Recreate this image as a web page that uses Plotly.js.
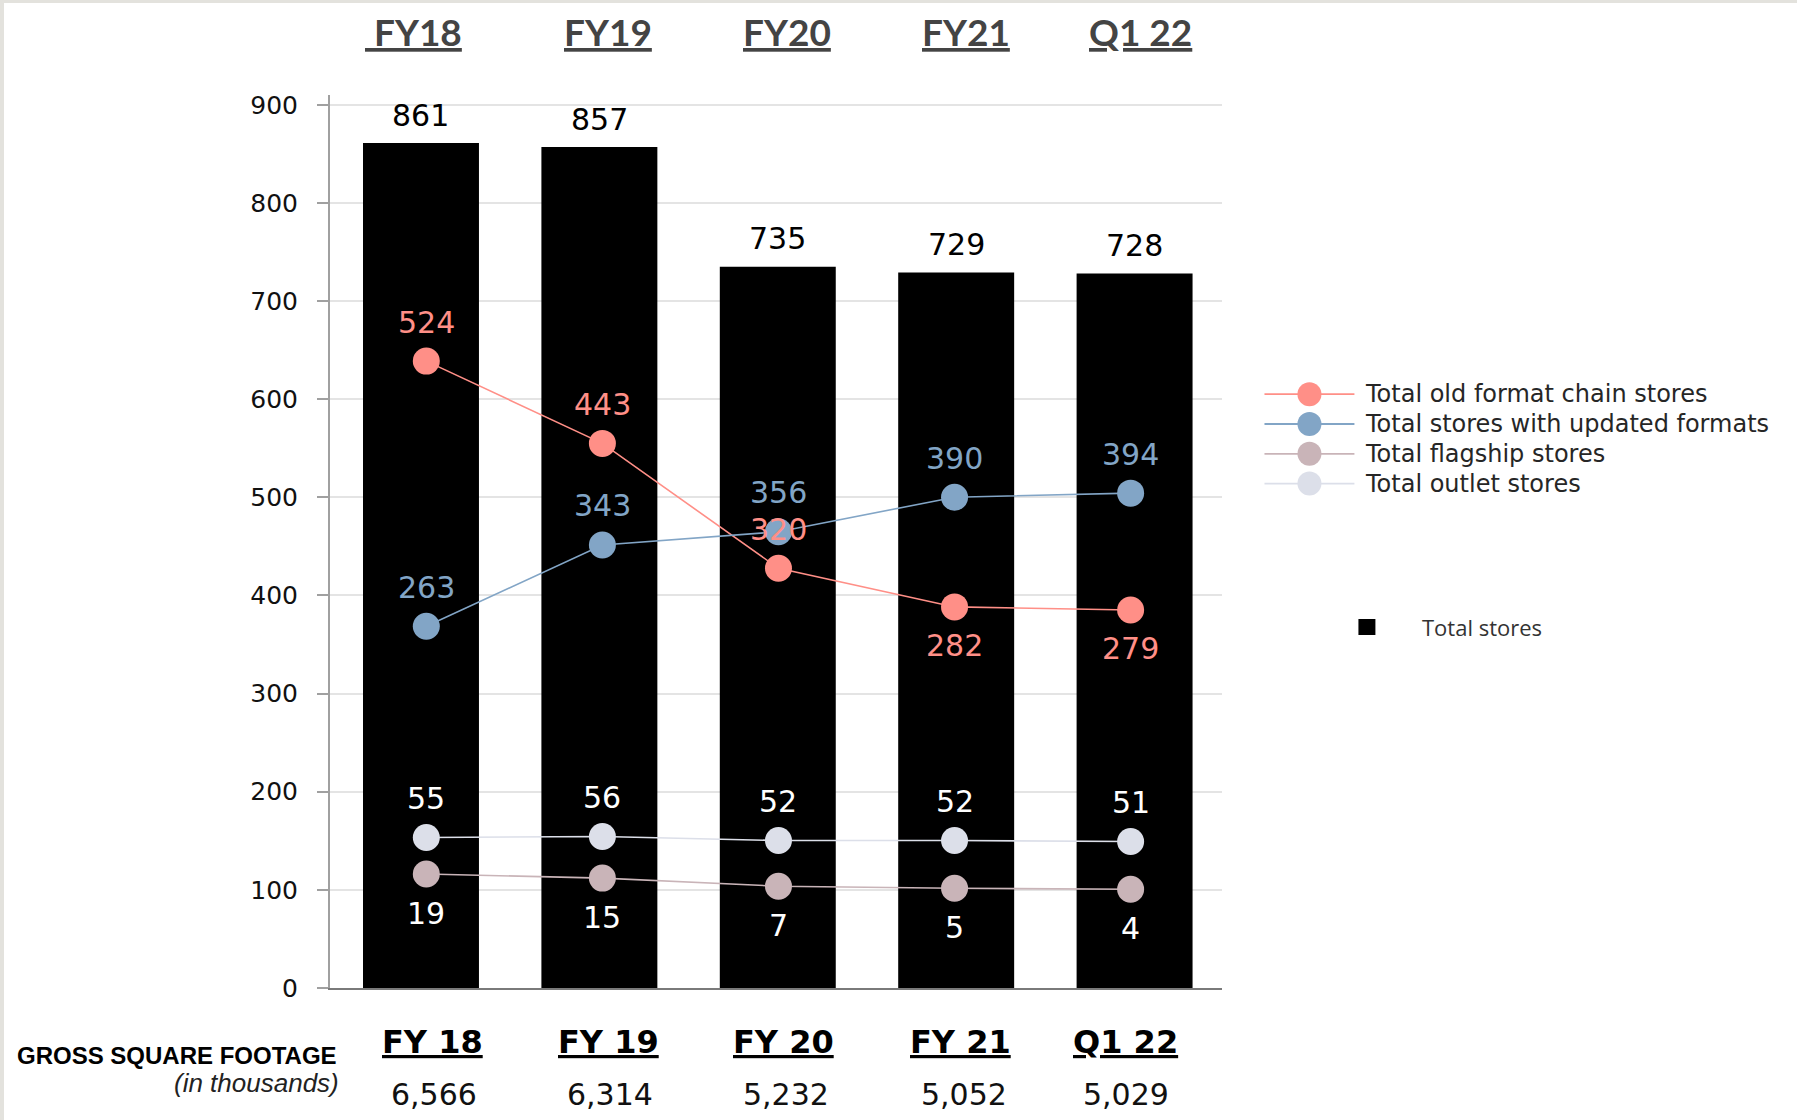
<!DOCTYPE html>
<html><head><meta charset="utf-8">
<script src="https://cdn.plot.ly/plotly-3.0.1.min.js"></script>
<style>
html,body{margin:0;padding:0;background:#e3e2dd;width:1797px;height:1120px;overflow:hidden}
#chart{position:absolute;left:4px;top:3px;width:1793px;height:1117px;background:#fff}
</style></head><body><div id="chart"></div>
<script>
// ---- data ----
const periods = ['FY18', 'FY19', 'FY20', 'FY21', 'Q1 22'];
const topLabels = ['\u00a0FY18', 'FY19', 'FY20', 'FY21', 'Q1 22'];
const bottomLabels = ['FY 18', 'FY 19', 'FY 20', 'FY 21', 'Q1 22'];
const sqFootage = ['6,566', '6,314', '5,232', '5,052', '5,029'];
const totalStores = [861, 857, 735, 729, 728];
const oldFormat = [524, 443, 320, 282, 279];
const updatedFormat = [263, 343, 356, 390, 394];
const flagship = [19, 15, 7, 5, 4];
const outlet = [55, 56, 52, 52, 51];

// ---- geometry (full-image pixels) ----
const OX = 4, OY = 3;                 // page border offset
const X0 = 330, X1 = 1222.5, Y0 = 95, Y1 = 988;
const px = x => (x - X0) / (X1 - X0);
const py = y => (Y1 - y) / (Y1 - Y0);

// label nudges (pixels) — styling only
const topShift = [-7.5, 8.5, 9.7, 9.7, 5.6];
const bottomShift = [11.4, 9.1, 5.6, 3.9, -8.7];
const valueShift = [13.1, 10.2, 8.5, 7.4, -8.1];

const series = [
  {name: 'Total old format chain stores', y: oldFormat, color: '#ff8f87', label: '#ff8f87', side: [1, 1, 1, -1, -1]},
  {name: 'Total stores with updated formats', y: updatedFormat, color: '#82a5c6', label: '#82a5c6', side: [1, 1, 1, 1, 1]},
  {name: 'Total flagship stores', y: flagship, color: '#c9b4b8', label: '#ffffff', side: [-1, -1, -1, -1, -1]},
  {name: 'Total outlet stores', y: outlet, color: '#dcdfe9', label: '#ffffff', side: [1, 1, 1, 1, 1]}
];

const traces = [{
  type: 'bar', x: periods, y: totalStores, name: 'Total stores',
  marker: {color: '#000000'}, width: 0.65, hoverinfo: 'skip', showlegend: false
}];
series.forEach(s => traces.push({
  type: 'scatter', mode: 'lines+markers', x: periods, y: s.y, xaxis: 'x2', yaxis: 'y2', name: s.name,
  line: {color: s.color, width: 1.6}, marker: {color: s.color, size: 27}, hoverinfo: 'skip', showlegend: false
}));

const ann = [];
const shapes = [];
const numFont = c => ({family: 'DejaVu Sans', size: 30, color: c});
totalStores.forEach((v, i) => ann.push({x: periods[i], y: v, xref: 'x', yref: 'y', text: String(v),
  showarrow: false, yshift: 28, yanchor: 'middle', font: numFont('#000')}));
series.forEach(s => s.y.forEach((v, i) => ann.push({x: periods[i], y: v, xref: 'x2', yref: 'y2', text: String(v),
  showarrow: false, yshift: 39 * s.side[i], yanchor: 'middle', font: numFont(s.label)})));
topLabels.forEach((t, i) => ann.push({x: periods[i], y: py(31.5), xref: 'x', yref: 'paper', text: '<u>' + t + '</u>',
  showarrow: false, xshift: topShift[i], yanchor: 'middle', font: {family: 'Lato', size: 37, weight: 700, color: '#444444'}}));
bottomLabels.forEach((t, i) => ann.push({x: periods[i], y: py(1042), xref: 'x', yref: 'paper', text: '<u>' + t + '</u>',
  showarrow: false, xshift: bottomShift[i], yanchor: 'middle', font: {family: 'DejaVu Sans', size: 32, weight: 700, color: '#000'}}));
sqFootage.forEach((t, i) => ann.push({x: periods[i], y: py(1094), xref: 'x', yref: 'paper', text: t,
  showarrow: false, xshift: valueShift[i], yanchor: 'middle', font: {family: 'DejaVu Sans', size: 30, color: '#111'}}));
ann.push({x: px(339), y: py(1055), xref: 'paper', yref: 'paper', text: 'GROSS SQUARE FOOTAGE', showarrow: false,
  xanchor: 'right', yanchor: 'middle', font: {family: 'Liberation Sans', size: 24, weight: 700, color: '#000'}});
ann.push({x: px(341), y: py(1083), xref: 'paper', yref: 'paper', text: '(in thousands)', showarrow: false,
  xanchor: 'right', yanchor: 'middle', font: {family: 'Liberation Sans', size: 26, style: 'italic', color: '#222'}});

// ---- legend (drawn with shapes + annotations) ----
const legRows = [394.2, 424, 453.8, 483.6];
series.forEach((s, i) => {
  const yy = py(legRows[i]);
  shapes.push({type: 'line', xref: 'paper', yref: 'paper', x0: px(1265), x1: px(1355), y0: yy, y1: yy,
    line: {color: s.color, width: 1.8}});
  shapes.push({type: 'circle', xref: 'paper', yref: 'paper', xsizemode: 'pixel', ysizemode: 'pixel',
    xanchor: px(1310), yanchor: yy, x0: -12, x1: 12, y0: -12, y1: 12, fillcolor: s.color, line: {width: 0}});
  ann.push({x: px(1364), y: yy, xref: 'paper', yref: 'paper', text: s.name, showarrow: false,
    xanchor: 'left', yanchor: 'middle', font: {family: 'DejaVu Sans', size: 24, color: '#262626'}});
});
shapes.push({type: 'rect', xref: 'paper', yref: 'paper', x0: px(1359), x1: px(1376), y0: py(635), y1: py(619),
  fillcolor: '#000', line: {width: 0}});
ann.push({x: px(1421), y: py(627), xref: 'paper', yref: 'paper', text: 'Total stores', showarrow: false,
  xanchor: 'left', yanchor: 'middle', font: {family: 'Open Sans', size: 22, color: '#333'}});

const layout = {
  width: 1793, height: 1117,
  margin: {l: X0 - OX, r: 1797 - X1, t: Y0 - OY, b: 1120 - Y1, pad: 0},
  paper_bgcolor: '#ffffff', plot_bgcolor: '#ffffff',
  font: {family: 'DejaVu Sans', color: '#111'},
  showlegend: false,
  xaxis: {type: 'category', range: [-0.51, 4.49], showticklabels: false, ticks: '', showgrid: false,
    showline: true, linecolor: '#7a7a7a', linewidth: 2, zeroline: false, fixedrange: true},
  xaxis2: {type: 'category', overlaying: 'x', range: [-0.547, 4.519], visible: false, fixedrange: true},
  yaxis: {range: [0, 910], dtick: 100, showgrid: true, gridcolor: '#e4e4e4', gridwidth: 2,
    showline: true, linecolor: '#a0a0a0', linewidth: 2, ticks: 'outside', ticklen: 11, tickwidth: 2,
    tickcolor: '#a0a0a0', ticklabelstandoff: 14, tickfont: {family: 'DejaVu Sans', size: 25, color: '#111'},
    zeroline: false, fixedrange: true},
  yaxis2: {overlaying: 'y', range: [-93.2, 786], visible: false, fixedrange: true},
  bargap: 0.35,
  shapes: shapes,
  annotations: ann
};

Plotly.newPlot('chart', traces, layout, {displayModeBar: false, staticPlot: true});
</script></body></html>
